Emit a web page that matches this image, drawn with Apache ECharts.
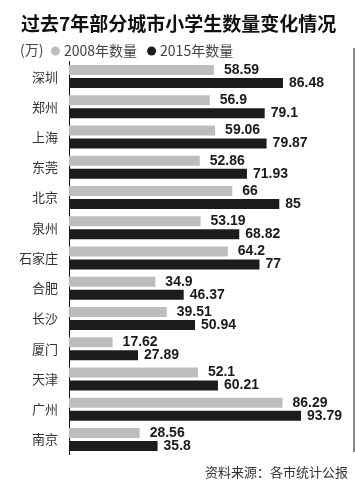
<!DOCTYPE html>
<html>
<head>
<meta charset="utf-8">
<script src="https://cdn.jsdelivr.net/npm/echarts@6/dist/echarts.min.js"></script>
<style>
  html, body { margin: 0; padding: 0; background: #fff; }
  #chart { width: 355px; height: 489px; }
</style>
</head>
<body>
<div id="chart"></div>
<script>
  var cities = ['深圳', '郑州', '上海', '东莞', '北京', '泉州', '石家庄', '合肥', '长沙', '厦门', '天津', '广州', '南京'];
  var data2008 = [58.59, 56.9, 59.06, 52.86, 66, 53.19, 64.2, 34.9, 39.51, 17.62, 52.1, 86.29, 28.56];
  var data2015 = [86.48, 79.1, 79.87, 71.93, 85, 68.82, 77, 46.37, 50.94, 27.89, 60.21, 93.79, 35.8];

  var cjk = '"Noto Sans CJK SC", sans-serif';
  var numFont = '"Liberation Sans", Arial, sans-serif';
  var myChart = echarts.init(document.getElementById('chart'));
  myChart.setOption({
    backgroundColor: '#fff',
    animation: false,
    title: [
      {
        text: '过去7年部分城市小学生数量变化情况',
        left: 16,
        top: 9,
        textStyle: { fontFamily: cjk, fontSize: 19, fontWeight: 'bold', color: '#111' }
      },
      {
        text: '(万)',
        left: 15,
        top: 38,
        textStyle: { fontFamily: cjk, fontSize: 14, fontWeight: 'normal', color: '#444' }
      },
      {
        text: '资料来源：各市统计公报',
        right: 2,
        top: 461,
        textStyle: { fontFamily: cjk, fontSize: 13, fontWeight: 'normal', color: '#333' }
      }
    ],
    legend: {
      left: 46,
      top: 39,
      icon: 'circle',
      itemWidth: 9,
      itemHeight: 9,
      itemGap: 10,
      textStyle: { fontFamily: cjk, fontSize: 14, color: '#444', padding: [0, 0, 0, -1] },
      data: ['2008年数量', '2015年数量']
    },
    grid: {
      left: 69,
      right: 1.5,
      top: 61.5,
      bottom: 34.5
    },
    xAxis: {
      type: 'value',
      min: 0,
      max: 115,
      show: false
    },
    yAxis: {
      type: 'category',
      inverse: true,
      data: cities,
      axisLine: { show: true, lineStyle: { color: '#111', width: 1 } },
      axisTick: { show: false },
      axisLabel: {
        margin: 11,
        fontFamily: cjk,
        fontSize: 13,
        color: '#333'
      }
    },
    series: [
      {
        name: '2008年数量',
        type: 'bar',
        data: data2008,
        barWidth: 10,
        barGap: '30%',
        itemStyle: { color: '#bdbdbd' },
        label: {
          show: true,
          position: 'right',
          distance: 10,
          fontFamily: numFont,
          fontSize: 14,
          fontWeight: 'bold',
          color: '#1a1a1a',
          formatter: function (params) {
            return params.value;
          }
        }
      },
      {
        name: '2015年数量',
        type: 'bar',
        data: data2015,
        barWidth: 10,
        itemStyle: { color: '#1c1c1c' },
        label: {
          show: true,
          position: 'right',
          distance: 6,
          fontFamily: numFont,
          fontSize: 14,
          fontWeight: 'bold',
          color: '#1a1a1a',
          formatter: function (params) {
            return params.value;
          }
        }
      }
    ],
    graphic: [
      {
        type: 'line',
        shape: { x1: 354, y1: 48, x2: 354, y2: 452 },
        style: { stroke: '#111', lineWidth: 1 }
      }
    ]
  });
</script>
</body>
</html>
